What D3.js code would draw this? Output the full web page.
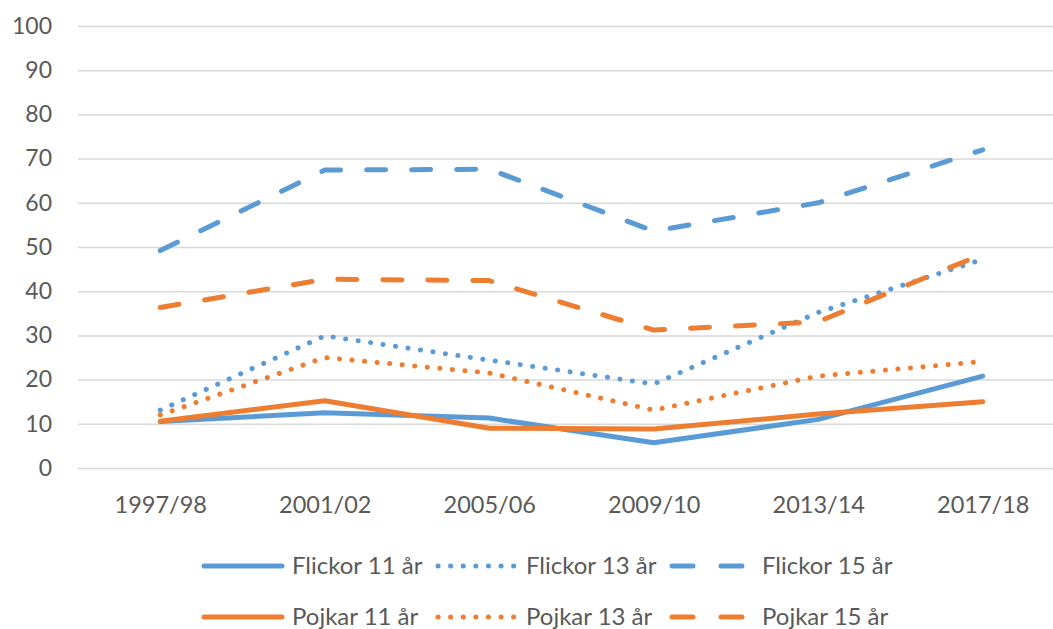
<html>
<head>
<meta charset="utf-8">
<script src="https://d3js.org/d3.v7.min.js"></script>
<style>
body { margin: 0; background: #fff; }
text { font-family: Lato, "Open Sans", sans-serif; fill: #595959; }
</style>
</head>
<body>
<div id="chart"></div>
<script>
// kategorier och värden (procent)
const years = ["1997/98", "2001/02", "2005/06", "2009/10", "2013/14", "2017/18"];
const yTicks = [0, 10, 20, 30, 40, 50, 60, 70, 80, 90, 100];

const flickor11 = [10.5, 12.5, 11.3, 5.7, 11.0, 20.8];
const flickor13 = [13.1, 29.9, 24.4, 19.0, 35.2, 47.2];
const flickor15 = [49.2, 67.4, 67.6, 53.6, 60.0, 72.0];
const pojkar11 = [10.6, 15.2, 9.0, 8.8, 12.2, 15.0];
const pojkar13 = [12.0, 25.0, 21.5, 13.1, 20.8, 24.1];
const pojkar15 = [36.3, 42.7, 42.4, 31.2, 33.1, 48.4];

const blue = "#5B9BD5", orange = "#ED7D31";

const series = [
  {name: "Flickor 11 år", values: flickor11, color: blue, type: "solid"},
  {name: "Flickor 13 år", values: flickor13, color: blue, type: "dot"},
  {name: "Flickor 15 år", values: flickor15, color: blue, type: "dash"},
  {name: "Pojkar 11 år", values: pojkar11, color: orange, type: "solid"},
  {name: "Pojkar 13 år", values: pojkar13, color: orange, type: "dot"},
  {name: "Pojkar 15 år", values: pojkar15, color: orange, type: "dash"}
];
const dashes = {solid: null, dot: "0.1,12.5", dash: "19,26"};
const legendDashes = {solid: null, dot: "0.1,12.5", dash: "21,28"};

const w = 1053, h = 629;

const svg = d3.select("#chart").append("svg")
  .attr("width", w)
  .attr("height", h);

const x = d3.scalePoint()
  .domain(years)
  .range([78, 1065])
  .padding(0.5);

const y = d3.scaleLinear()
  .domain([0, 100])
  .range([468, 26]);

// rutnät + y-etiketter
const yAxis = d3.axisLeft(y)
  .tickValues(yTicks)
  .tickSize(-(w - 78))
  .tickPadding(26);

const gy = svg.append("g")
  .attr("transform", "translate(78,0)")
  .call(yAxis);
gy.select(".domain").remove();
gy.selectAll(".tick line")
  .attr("stroke", "#D9D9D9")
  .attr("stroke-width", 1.5);
gy.selectAll(".tick text")
  .style("font-size", "23px")
  .attr("fill", "#595959");

// x-etiketter
const xAxis = d3.axisBottom(x).tickSize(0).tickPadding(28);
const gx = svg.append("g")
  .attr("transform", "translate(0,468)")
  .call(xAxis);
gx.select(".domain").remove();
gx.selectAll(".tick text")
  .style("font-size", "23.5px")
  .attr("fill", "#595959");

const line = d3.line()
  .x((d, i) => x(years[i]))
  .y(d => y(d));

svg.selectAll("path.serie")
  .data(series)
  .enter()
  .append("path")
  .attr("class", "serie")
  .attr("d", d => line(d.values))
  .attr("fill", "none")
  .attr("stroke", d => d.color)
  .attr("stroke-width", 5)
  .attr("stroke-linecap", "round")
  .attr("stroke-linejoin", "round")
  .attr("stroke-dasharray", d => dashes[d.type]);

// legend, två rader
const item = svg.append("g").selectAll("g")
  .data(series)
  .enter()
  .append("g")
  .attr("transform", (d, i) => `translate(${204 + (i % 3) * 234},${i < 3 ? 566 : 617})`);

item.append("line")
  .attr("x1", 0).attr("x2", d => d.type === "dash" ? 70 : 78)
  .attr("y1", 0).attr("y2", 0)
  .attr("stroke", d => d.color)
  .attr("stroke-width", 5)
  .attr("stroke-linecap", "round")
  .attr("stroke-dasharray", d => legendDashes[d.type]);

item.append("text")
  .attr("x", d => d.type === "dash" ? 90 : 88)
  .attr("y", 8)
  .style("font-size", "24px")
  .text(d => d.name);
</script>
</body>
</html>
